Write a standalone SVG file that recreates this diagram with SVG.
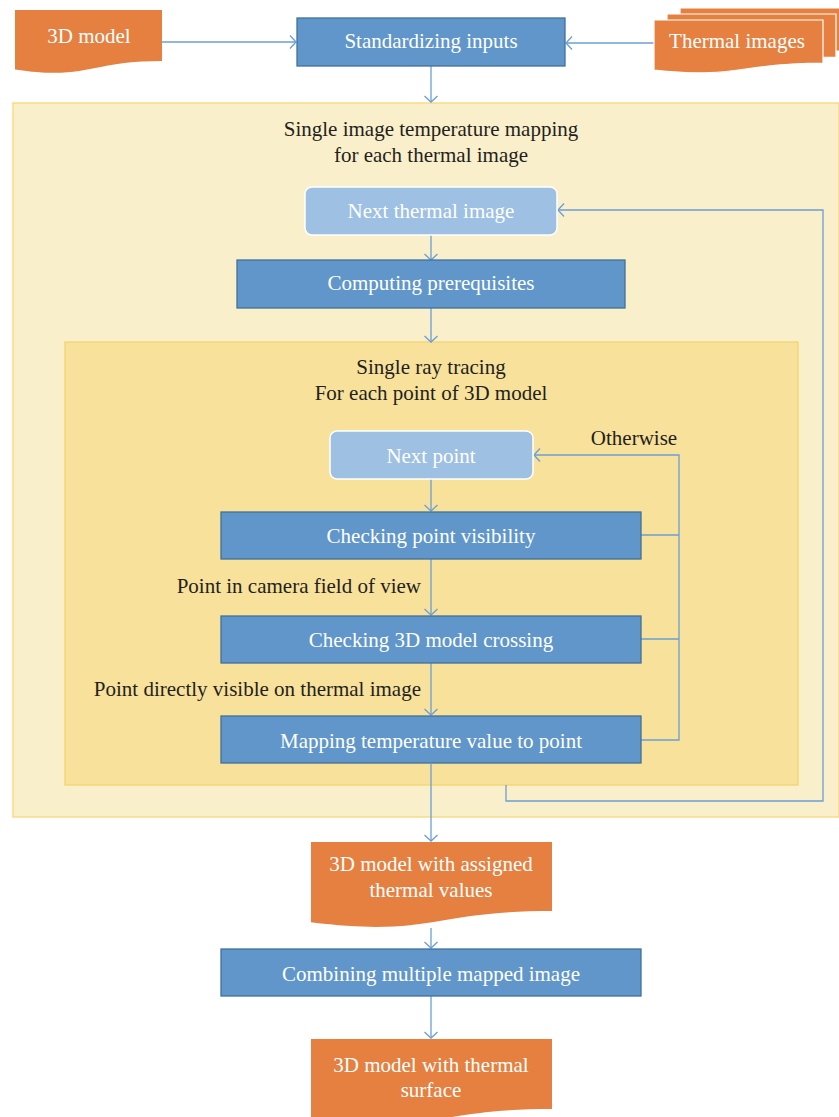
<svg xmlns="http://www.w3.org/2000/svg" width="839" height="1117" viewBox="0 0 839 1117">
<style>
text{font-family:"Liberation Serif","Times New Roman",serif;font-size:21px;text-anchor:middle}
.w{fill:#FFFFFF}
.k{fill:#231F20}
.proc{fill:#6096C9;stroke:#41719C;stroke-width:1.3}
.lite{fill:#9DC0E3;stroke:#FFFFFF;stroke-width:1.5}
.doc{fill:#E58040}
.docs{fill:#E58040;stroke:#FFFFFF;stroke-width:1.2}
.con{fill:none;stroke:#6A9FD6;stroke-width:1.3}
</style>
<defs>
<marker id="ah" markerUnits="userSpaceOnUse" viewBox="-8 -8 10 16" refX="0" refY="0" markerWidth="10" markerHeight="16" orient="auto">
<path d="M-6,-6.5 L0,0 L-6,6.5" fill="none" stroke="#6A9FD6" stroke-width="1.3"/>
</marker>
</defs>
<rect width="839" height="1117" fill="#FFFFFF"/>
<g id="outer-box">
<rect x="13" y="103" width="826" height="714" fill="#FAEFCB" stroke="#F7D779" stroke-width="1.3"/>
<text class="k" x="431" y="136">Single image temperature mapping</text>
<text class="k" x="431" y="162">for each thermal image</text>
</g>
<g id="inner-box">
<rect x="65" y="342" width="733" height="443" fill="#F8E19A" stroke="#F5D36E" stroke-width="1.3"/>
<text class="k" x="431" y="374">Single ray tracing</text>
<text class="k" x="431" y="400">For each point of 3D model</text>
</g>
<g id="connectors">
<path class="con" d="M162,42 H296" marker-end="url(#ah)"/>
<path class="con" d="M654,43 H566" marker-end="url(#ah)"/>
<path class="con" d="M431,66 V102" marker-end="url(#ah)"/>
<path class="con" d="M431,235 V260" marker-end="url(#ah)"/>
<path class="con" d="M431,308 V342" marker-end="url(#ah)"/>
<path class="con" d="M431,479 V511" marker-end="url(#ah)"/>
<path class="con" d="M431,559 V615" marker-end="url(#ah)"/>
<path class="con" d="M431,663 V715" marker-end="url(#ah)"/>
<path class="con" d="M431,764 V841" marker-end="url(#ah)"/>
<path class="con" d="M431,928 V948" marker-end="url(#ah)"/>
<path class="con" d="M431,996 V1038" marker-end="url(#ah)"/>
<path class="con" d="M641,535 H679"/>
<path class="con" d="M641,639 H679"/>
<path class="con" d="M641,740 H679 V455 H534" marker-end="url(#ah)"/>
<path class="con" d="M506,785 V801 H823 V210 H558" marker-end="url(#ah)"/>
<text class="k" x="634" y="445">Otherwise</text>
<text class="k" x="421" y="593" style="text-anchor:end">Point in camera field of view</text>
<text class="k" x="421" y="696" style="text-anchor:end">Point directly visible on thermal image</text>
</g>
<g id="model-3d">
<path class="doc" d="M15,10 H162 V61 C88.5,61 88.5,80.4 15,69.4 Z"/>
<text class="w" x="89" y="43">3D model</text>
</g>
<g id="thermal-images">
<path class="docs" d="M680,8 H849 V51 C764.5,51 764.5,67.3 680,58.1 Z"/>
<path class="docs" d="M667,14 H836 V57 C751.5,57 751.5,73.3 667,64.1 Z"/>
<path class="docs" d="M654,20 H823 V63 C738.5,63 738.5,79.3 654,70.1 Z"/>
<text class="w" x="737" y="48">Thermal images</text>
</g>
<g id="standardizing">
<rect class="proc" x="297" y="18" width="268" height="48"/>
<text class="w" x="431" y="48">Standardizing inputs</text>
</g>
<g id="next-thermal-image">
<rect class="lite" x="305" y="187" width="252" height="48" rx="7"/>
<text class="w" x="431" y="218">Next thermal image</text>
</g>
<g id="computing-prerequisites">
<rect class="proc" x="237" y="260" width="388" height="48"/>
<text class="w" x="431" y="290">Computing prerequisites</text>
</g>
<g id="next-point">
<rect class="lite" x="330" y="431" width="203" height="48" rx="7"/>
<text class="w" x="431" y="463">Next point</text>
</g>
<g id="checking-visibility">
<rect class="proc" x="221" y="512" width="420" height="47"/>
<text class="w" x="431" y="543">Checking point visibility</text>
</g>
<g id="checking-crossing">
<rect class="proc" x="221" y="616" width="420" height="47"/>
<text class="w" x="431" y="647">Checking 3D model crossing</text>
</g>
<g id="mapping-temperature">
<rect class="proc" x="221" y="716" width="420" height="47"/>
<text class="w" x="431" y="748">Mapping temperature value to point</text>
</g>
<g id="model-assigned">
<path class="doc" d="M311,842 H552 V911 C431.5,911 431.5,937.2 311,922.3 Z"/>
<text class="w" x="431" y="871">3D model with assigned</text>
<text class="w" x="431" y="897">thermal values</text>
</g>
<g id="combining">
<rect class="proc" x="221" y="949" width="420" height="47"/>
<text class="w" x="431" y="981">Combining multiple mapped image</text>
</g>
<g id="model-surface">
<path class="doc" d="M311,1039 H552 V1109 C431.5,1109 431.5,1135.6 311,1120.5 Z"/>
<text class="w" x="431" y="1072">3D model with thermal</text>
<text class="w" x="431" y="1097">surface</text>
</g>
</svg>
